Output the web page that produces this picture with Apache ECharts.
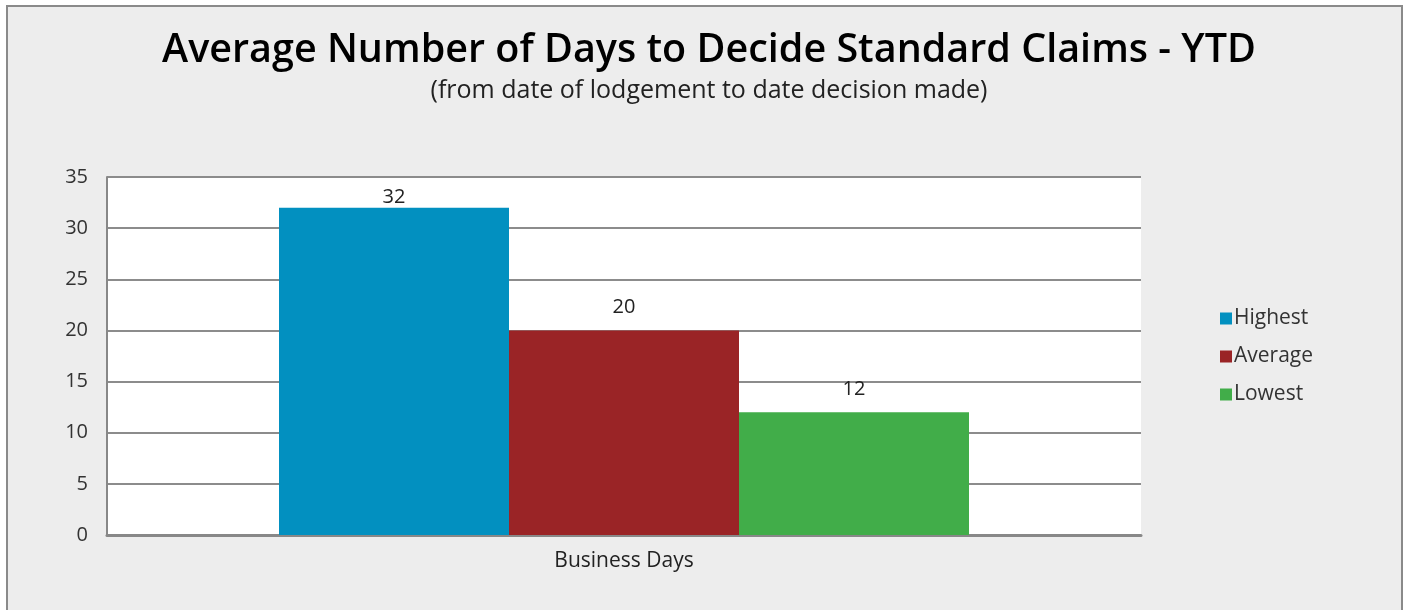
<!DOCTYPE html>
<html>
<head>
<meta charset="utf-8">
<script src="https://cdn.jsdelivr.net/npm/echarts@6/dist/echarts.min.js"></script>
<style>
  html, body { margin: 0; padding: 0; background: #fff; }
  #main { width: 1407px; height: 610px; }
</style>
</head>
<body>
<div id="main"></div>
<script>
// 数据
const categories = ['Business Days']
const seriesNames = ['Highest', 'Average', 'Lowest']
const highest = [32]
const average = [20]
const lowest = [12]
const seriesColors = ['#0290c0', '#9a2426', '#41ad49']

const font = '"Open Sans", Lato, sans-serif'

const chart = echarts.init(document.getElementById('main'))

const values = [highest, average, lowest]
const series = seriesNames.map((name, i) => ({
  name: name,
  type: 'bar',
  barWidth: 230,
  barGap: '0%',
  itemStyle: { color: seriesColors[i] },
  label: {
    show: true,
    position: 'top',
    distance: i === 0 ? 0 : 13, // 最高那根的标签贴着柱顶
    color: '#222',
    fontFamily: font,
    fontSize: 20
  },
  data: values[i]
}))

const option = {
  backgroundColor: '#fff',
  animation: false,
  graphic: [{
    type: 'rect',
    z: -10,
    shape: { x: 7, y: 6, width: 1395, height: 640 },
    style: { fill: '#ededed', stroke: '#8a8a8a', lineWidth: 2 }
  }],
  title: {
    text: 'Average Number of Days to Decide Standard Claims - YTD',
    subtext: '(from date of lodgement to date decision made)',
    left: 704,
    textAlign: 'center',
    top: 26,
    itemGap: 7,
    textStyle: { fontFamily: font, fontSize: 39.5, fontWeight: 600, color: '#000' },
    subtextStyle: { fontFamily: font, fontSize: 25, color: '#222' }
  },
  legend: {
    orient: 'vertical',
    left: 1215,
    top: 303,
    itemWidth: 12,
    itemHeight: 12,
    itemGap: 17,
    icon: 'rect',
    textStyle: { fontFamily: font, fontSize: 21, color: '#333', lineHeight: 20, padding: [0, 0, 0, -3] },
    data: seriesNames
  },
  grid: {
    left: 107,
    right: 1407 - 1141,
    top: 177,
    bottom: 610 - 535,
    show: true,
    backgroundColor: '#fff',
    borderWidth: 0
  },
  xAxis: {
    type: 'category',
    data: categories,
    axisLine: { lineStyle: { color: '#888', width: 3 } },
    axisTick: { show: false },
    axisLabel: { fontFamily: font, fontSize: 21, color: '#222', margin: 16 }
  },
  yAxis: {
    type: 'value',
    min: 0,
    max: 35,
    interval: 5,
    axisLine: { show: true, lineStyle: { color: '#888', width: 2 } },
    axisTick: { show: false },
    axisLabel: { fontFamily: font, fontSize: 20, color: '#333', margin: 19 },
    splitLine: { lineStyle: { color: '#8c8c8c', width: 2 } }
  },
  series: series
}

chart.setOption(option)
</script>
</body>
</html>
